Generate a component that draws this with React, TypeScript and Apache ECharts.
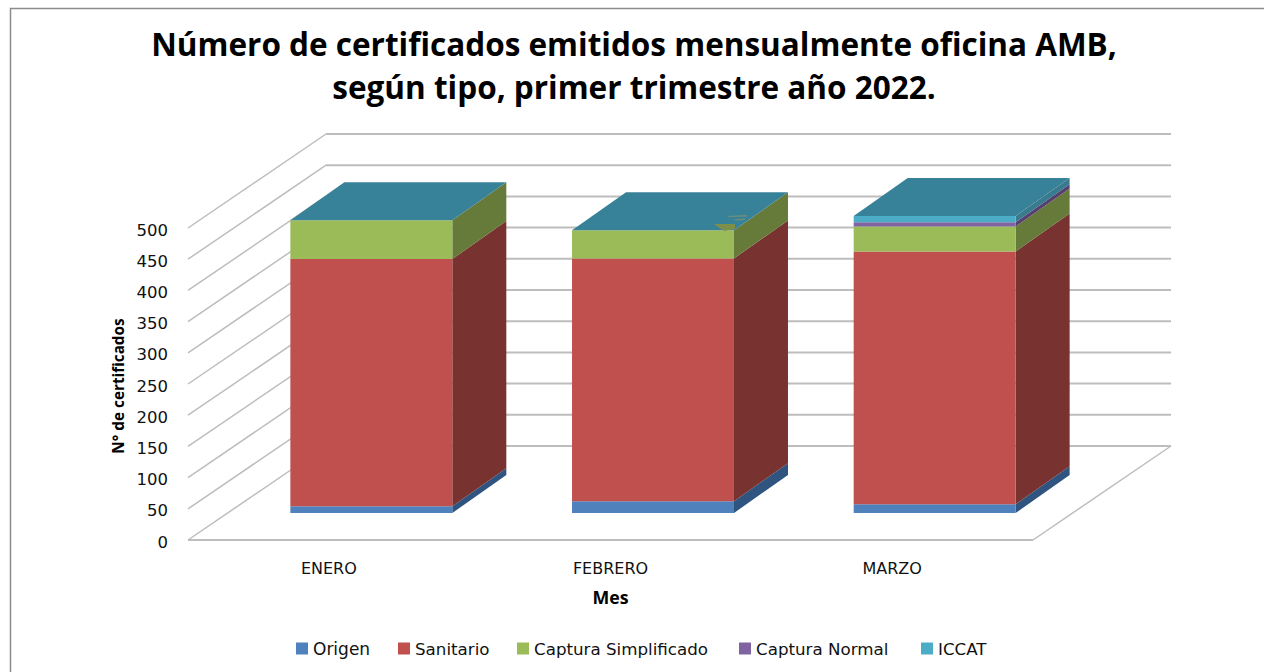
import React, { useEffect, useRef } from "react";
import * as echarts from "echarts";

const categories = ["ENERO", "FEBRERO", "MARZO"];
const seriesNames = ["Origen", "Sanitario", "Captura Simplificado", "Captura Normal", "ICCAT"];
const origen = [11, 19, 14];
const sanitario = [396, 389, 405];
const capturaSimplificado = [62, 45, 40];
const capturaNormal = [0, 0, 7];
const iccat = [0, 0, 10];
const yTicks = [0, 50, 100, 150, 200, 250, 300, 350, 400, 450, 500];

const allValues = [origen, sanitario, capturaSimplificado, capturaNormal, iccat];
const frontColors = ["#4F81BD", "#C0504D", "#9BBB59", "#8064A2", "#4BACC6"];
const sideColors = ["#2F5480", "#783230", "#667A3A", "#55406F", "#387A8E"];
const topColor = "#388299";
const wallColor = "#BDBDBD";
const FONT = "'Open Sans', sans-serif";
const BODY_FONT = "'DejaVu Sans', sans-serif";
const legendLefts = [296, 398, 517, 739, 921];
const legendSizes = [17, 16.7, 16.7, 16.7, 16.7];

const G = { left: 188, top: 228, width: 845, height: 312 };
const WALL_DX = 138;
const WALL_DY = -94;
const BAR_DX = 42.5;
const BAR_DY = -27;
const DEPTH_DX = 54;
const DEPTH_DY = -38;
const BAR_RATIO = 0.575;

function renderWall(params: any, api: any) {
  const v = api.value(0);
  const [x0, y] = api.coord([0, v]);
  const left = x0 - api.size([1, 0])[0] / 2;
  const right = left + G.width;
  const children: any[] = [
    {
      type: "line",
      shape: { x1: left, y1: y, x2: left + WALL_DX, y2: y + WALL_DY },
      style: { stroke: wallColor, lineWidth: 1.5 },
    },
    {
      type: "line",
      shape: { x1: left + WALL_DX, y1: y + WALL_DY, x2: right + WALL_DX, y2: y + WALL_DY },
      style: { stroke: wallColor, lineWidth: 2 },
    },
  ];
  if (v === 0) {
    children.push(
      {
        type: "line",
        shape: { x1: left, y1: y, x2: right, y2: y },
        style: { stroke: wallColor, lineWidth: 2 },
      },
      {
        type: "line",
        shape: { x1: right, y1: y, x2: right + WALL_DX, y2: y + WALL_DY },
        style: { stroke: wallColor, lineWidth: 1.5 },
      }
    );
  }
  return { type: "group", children };
}

function makeRenderBar(seriesIndex: number) {
  return (params: any, api: any) => {
    const c = api.value(0);
    const start = api.coord([c, api.value(1)]);
    const end = api.coord([c, api.value(2)]);
    const w = api.size([1, 0])[0] * BAR_RATIO;
    const xl = start[0] + BAR_DX - w / 2;
    const xr = xl + w;
    const yb = start[1] + BAR_DY;
    const yt = end[1] + BAR_DY;
    const children: any[] = [];
    if (yb - yt > 0) {
      children.push(
        {
          type: "polygon",
          shape: { points: [[xr, yb], [xr + DEPTH_DX, yb + DEPTH_DY], [xr + DEPTH_DX, yt + DEPTH_DY], [xr, yt]] },
          style: { fill: sideColors[seriesIndex] },
        },
        {
          type: "rect",
          shape: { x: xl, y: yt, width: w, height: yb - yt },
          style: { fill: frontColors[seriesIndex] },
        }
      );
    }
    if (seriesIndex === allValues.length - 1) {
      children.push({
        type: "polygon",
        shape: { points: [[xl, yt], [xr, yt], [xr + DEPTH_DX, yt + DEPTH_DY], [xl + DEPTH_DX, yt + DEPTH_DY]] },
        style: { fill: topColor },
      });
    }
    return { type: "group", children };
  };
}

export default function App() {
  const ref = useRef<HTMLDivElement>(null);
  useEffect(() => {
    const chart = echarts.init(ref.current!, undefined, { renderer: "svg" });
    const cumulative = categories.map(() => 0);
    const barSeries = seriesNames.map((name, si) => ({
      type: "custom",
      name,
      coordinateSystem: "cartesian2d",
      silent: true,
      z: 3,
      itemStyle: { color: frontColors[si] },
      encode: { x: 0, y: [1, 2] },
      renderItem: makeRenderBar(si),
      data: categories.map((_, i) => {
        const s = cumulative[i];
        cumulative[i] = s + allValues[si][i];
        return [i, s, cumulative[i]];
      }),
    }));
    chart.setOption({
      animation: false,
      backgroundColor: "#fff",
      textStyle: { fontFamily: BODY_FONT },
      title: {
        text: "Número de certificados emitidos mensualmente oficina AMB,\nsegún tipo, primer trimestre año 2022.",
        left: 629,
        top: 17,
        textAlign: "center",
        textStyle: { fontFamily: FONT, fontSize: 31.5, fontWeight: "bold", color: "#000", lineHeight: 43 },
      },
      legend: seriesNames.map((name, i) => ({
        data: [name],
        left: legendLefts[i],
        top: 640,
        padding: 0,
        icon: "rect",
        itemWidth: 12,
        itemHeight: 12,
        selectedMode: false,
        textStyle: { fontFamily: BODY_FONT, fontSize: legendSizes[i], color: "#111", padding: [7, 0, 0, 0] },
      })),
      grid: { left: G.left, top: G.top, width: G.width, height: G.height },
      xAxis: {
        type: "category",
        data: categories,
        name: "Mes",
        nameLocation: "middle",
        nameGap: 48,
        nameTextStyle: { fontFamily: FONT, fontSize: 17.8, fontWeight: "bold", color: "#000" },
        axisLine: { show: false },
        axisTick: { show: false },
        axisLabel: { fontFamily: BODY_FONT, fontSize: 16, color: "#111", margin: 20 },
      },
      yAxis: {
        type: "value",
        min: 0,
        max: 500,
        interval: 50,
        name: "N° de certificados",
        nameLocation: "middle",
        nameGap: 63,
        nameRotate: 90,
        nameTextStyle: { fontFamily: FONT, fontSize: 15.3, fontWeight: "bold", color: "#000", padding: [0, 4, 0, 0] },
        axisLine: { show: false },
        axisTick: { show: false },
        splitLine: { show: false },
        axisLabel: { fontFamily: BODY_FONT, fontSize: 16.5, color: "#111", margin: 20, verticalAlign: "top", lineHeight: 4 },
      },
      graphic: [
        {
          type: "polyline",
          shape: { points: [[10.5, 672], [10.5, 8.5], [1264, 8.5]] },
          style: { fill: "none", stroke: "#8C8C8C", lineWidth: 1.5 },
          silent: true,
          z: 0,
        },
        {
          type: "polygon",
          shape: { points: [[714, 224], [735, 224], [735, 229], [724, 231]] },
          style: { fill: "#7E8F4A" },
          silent: true,
          z: 10,
        },
        {
          type: "polygon",
          shape: { points: [[727, 216], [747, 215], [747, 216.5], [730, 217]] },
          style: { fill: "#6F9078" },
          silent: true,
          z: 10,
        },
        {
          type: "polygon",
          shape: { points: [[733, 219.5], [745, 218.5], [745, 220], [736, 220.5]] },
          style: { fill: "#6F9078" },
          silent: true,
          z: 10,
        },
      ],
      series: [
        {
          type: "custom",
          name: "wall",
          coordinateSystem: "cartesian2d",
          silent: true,
          z: 1,
          encode: { y: 0 },
          renderItem: renderWall,
          data: yTicks.map((t) => [t]),
        },
        ...barSeries,
      ],
    });
    return () => chart.dispose();
  }, []);
  return (
    <div
      ref={ref}
      style={{ position: "fixed", left: 0, top: 0, width: 1264, height: 672, background: "#fff" }}
    />
  );
}
